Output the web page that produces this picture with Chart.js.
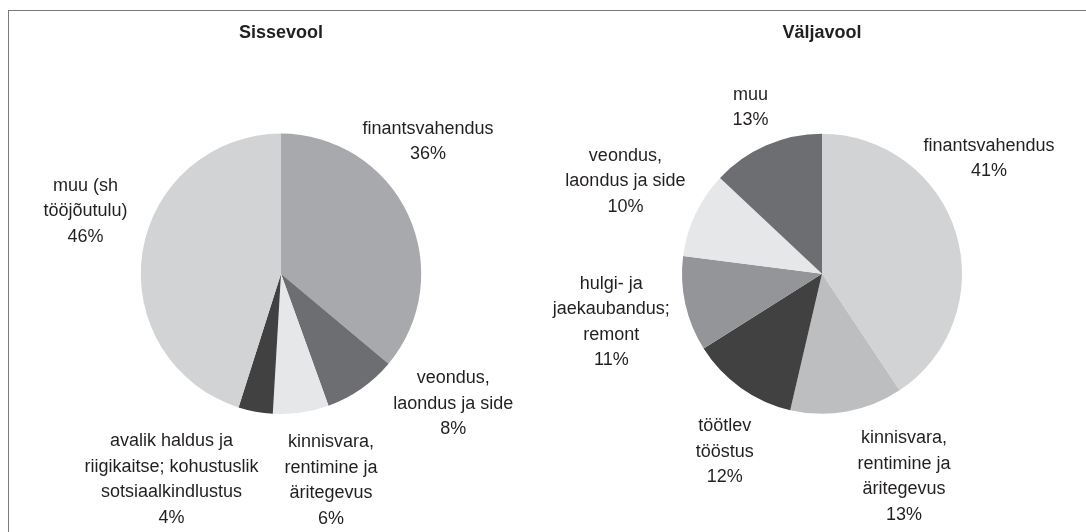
<!DOCTYPE html>
<html>
<head>
<meta charset="utf-8">
<script src="https://cdn.jsdelivr.net/npm/chart.js@4/dist/chart.umd.min.js"></script>
<style>
    html, body { margin: 0; padding: 0; background: #fff; overflow: hidden; }
    #wrap { position: relative; width: 1086px; height: 532px; }
    #frame { position: absolute; left: 8px; top: 10px; right: 0; bottom: 0;
             border-top: 1px solid #7a7a7a; border-left: 1px solid #7a7a7a; }
    canvas { position: absolute; top: 0; }
</style>
</head>
<body>
<div id="wrap">
    <div id="frame"></div>
    <canvas id="inChart" width="543" height="532" style="left:0px"></canvas>
    <canvas id="outChart" width="543" height="532" style="left:543px"></canvas>
</div>
<script>
// Sissevool
const inLabels = [
    ['finantsvahendus'],
    ['veondus,', 'laondus ja side'],
    ['kinnisvara,', 'rentimine ja', 'äritegevus'],
    ['avalik haldus ja', 'riigikaitse; kohustuslik', 'sotsiaalkindlustus'],
    ['muu (sh', 'tööjõutulu)']
];
const inValues = [36.4, 8.49, 6.49, 4.0, 45.5];

// Väljavool
const outLabels = [
    ['finantsvahendus'],
    ['kinnisvara,', 'rentimine ja', 'äritegevus'],
    ['töötlev', 'tööstus'],
    ['hulgi- ja', 'jaekaubandus;', 'remont'],
    ['veondus,', 'laondus ja side'],
    ['muu']
];
const outValues = [40.7, 13.0, 12.4, 11.0, 10.0, 13.0];

const inColors = ['#a7a9ac', '#6d6e71', '#e6e7e8', '#414142', '#d1d3d4'];
const outColors = ['#d1d3d4', '#bcbec0', '#414142', '#939598', '#e6e7e8', '#6d6e71'];

// label nudges from the slice's outer edge (Excel-ish best fit)
const inNudge = [[20, -73], [92, 15], [30, 68], [-84, 68], [-57, -41]];
const outNudge = [[33, -75], [57, 65], [-16, 64], [-74, 18], [-70, -33], [-16, -38]];

const textColor = '#231f20';
const lineGap = 25.5;

const sliceLabels = {
    id: 'sliceLabels',
    afterDatasetsDraw(chart, args, opts) {
        const ctx = chart.ctx;
        const meta = chart.getDatasetMeta(0);
        const values = chart.data.datasets[0].data;
        ctx.save();
        ctx.font = '18px "Liberation Sans", Arial, sans-serif';
        ctx.fillStyle = textColor;
        ctx.textAlign = 'center';
        ctx.textBaseline = 'middle';
        meta.data.forEach((arc, i) => {
            const p = arc.getProps(['x', 'y', 'startAngle', 'endAngle', 'outerRadius'], true);
            const mid = (p.startAngle + p.endAngle) / 2;
            const cx = p.x + Math.cos(mid) * p.outerRadius + opts.nudge[i][0];
            const cy = p.y + Math.sin(mid) * p.outerRadius + opts.nudge[i][1];
            const lines = chart.data.labels[i].concat([Math.round(values[i]) + '%']);
            lines.forEach((t, k) => {
                ctx.fillText(t, cx, cy + (k - (lines.length - 1) / 2) * lineGap);
            });
        });
        ctx.restore();
    }
};

function makePie(id, title, labels, values, colors, nudge, pad) {
    return new Chart(document.getElementById(id), {
        type: 'pie',
        plugins: [sliceLabels],
        data: {
            labels: labels,
            datasets: [{
                data: values,
                backgroundColor: colors,
                borderWidth: 0,
            }]
        },
        options: {
            responsive: false,
            animation: false,
            layout: {
                padding: { left: pad[0], right: pad[1], top: 0, bottom: 118 }
            },
            plugins: {
                legend: { display: false },
                tooltip: { enabled: false },
                title: {
                    display: true,
                    text: title,
                    color: textColor,
                    font: { family: '"Liberation Sans", Arial, sans-serif', size: 18, weight: 'bold' },
                    padding: { top: 22, bottom: 90 }
                },
                sliceLabels: { nudge: nudge }
            }
        }
    });
}

makePie('inChart', 'Sissevool', inLabels, inValues, inColors, inNudge, [140, 121]);
makePie('outChart', 'Väljavool', outLabels, outValues, outColors, outNudge, [139, 124]);
</script>
</body>
</html>
